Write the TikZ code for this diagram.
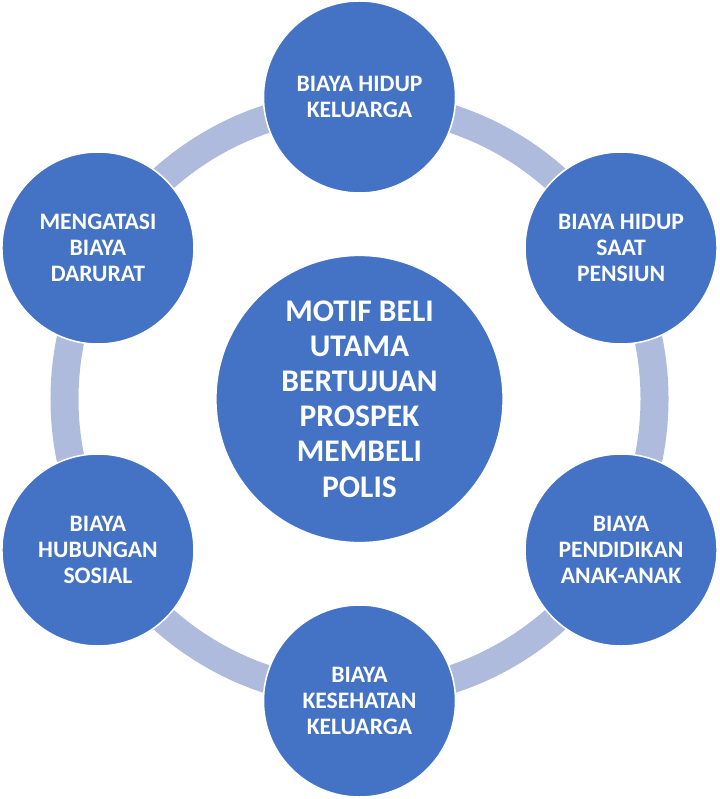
\documentclass[tikz,border=0pt]{standalone}
\usepackage{fontspec}
\setmainfont{Carlito}
\definecolor{birutua}{RGB}{68,114,196}
\definecolor{birumuda}{RGB}{175,187,221}

\tikzset{
  motif/.style={circle, fill=birutua, draw=white, line width=1.1pt,
    text=white, align=center, inner sep=0pt, minimum size=4.8cm,
    font=\bfseries\fontsize{16.8}{18.4}\selectfont},
  pusat/.style={motif, minimum size=7.18cm,
    font=\bfseries\fontsize{22.4}{25}\selectfont}
}

\begin{document}
\begin{tikzpicture}[x=0.025cm, y=0.025cm]
            \useasboundingbox (0,0) rectangle (719,-799);

            % lingkaran tengah
            \coordinate (tengah) at (359.5,-399);

            % cincin penghubung
            \draw[birumuda, line width=0.7cm] (tengah) circle (295);

            \node[pusat] (utama) at (tengah)
                {MOTIF BELI\\UTAMA\\BERTUJUAN\\PROSPEK\\MEMBELI\\POLIS};

            % enam motif di sekeliling
            \node[motif] (keluarga) at ([shift={(90:302)}]tengah)
                {BIAYA HIDUP\\KELUARGA};
            \node[motif] (pensiun) at ([shift={(30:302)}]tengah)
                {BIAYA HIDUP\\SAAT\\PENSIUN};
            \node[motif] (pendidikan) at ([shift={(-30:302)}]tengah)
                {BIAYA\\PENDIDIKAN\\ANAK-ANAK};
            \node[motif] (kesehatan) at ([shift={(-90:302)}]tengah)
                {BIAYA\\KESEHATAN\\KELUARGA};
            \node[motif] (sosial) at ([shift={(-150:302)}]tengah)
                {BIAYA\\HUBUNGAN\\SOSIAL};
            \node[motif] (darurat) at ([shift={(150:302)}]tengah)
                {MENGATASI\\BIAYA\\DARURAT};
        \end{tikzpicture}
\end{document}
